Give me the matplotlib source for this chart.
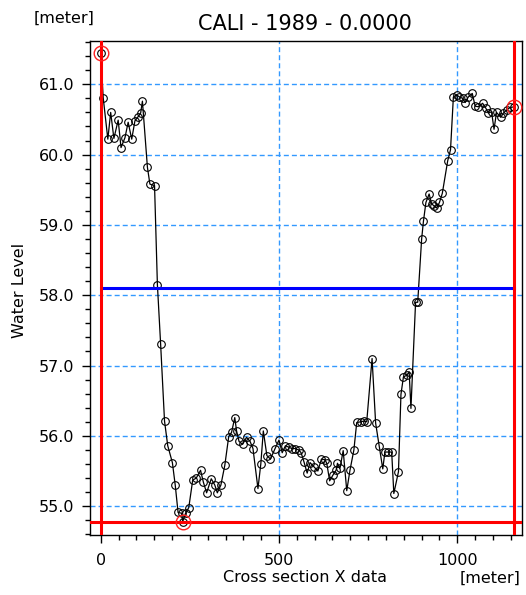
import numpy as np
import matplotlib
matplotlib.use("Agg")
import matplotlib.pyplot as plt
from matplotlib.ticker import MultipleLocator, FixedLocator

plt.rcParams['font.family'] = ['DejaVu Sans']
plt.rcParams['lines.scale_dashes'] = False

# cross section profile (distance [m], level [m])
xs = [0, 7, 20, 28, 37, 49, 57, 68, 77, 87, 96, 105, 112, 117, 131, 138, 151,
      159, 168, 179, 188, 201, 209, 217, 227, 230, 238, 247, 258, 268, 280, 288,
      297, 310, 320, 327, 337, 348, 359, 367, 376, 381, 388, 398, 409, 419, 427,
      441, 449, 456, 466, 476, 489, 500, 509, 518, 527, 536, 545, 555, 562, 570,
      579, 587, 598, 609, 619, 629, 634, 642, 651, 660, 664, 671, 680, 690, 699,
      710, 718, 729, 738, 746, 761, 771, 781, 791, 797, 807, 816, 822, 835, 842,
      849, 858, 865, 870, 883, 889, 900, 905, 912, 921, 928, 935, 942, 950, 958,
      973, 981, 989, 998, 1006, 1015, 1022, 1031, 1042, 1050, 1059, 1071, 1080,
      1087, 1096, 1103, 1110, 1122, 1129, 1140, 1148, 1160]
zs = [61.45, 60.81, 60.22, 60.60, 60.23, 60.49, 60.10, 60.24, 60.46, 60.22,
      60.48, 60.54, 60.59, 60.76, 59.82, 59.58, 59.56, 58.15, 57.31, 56.21,
      55.86, 55.62, 55.30, 54.91, 54.90, 54.78, 54.90, 54.98, 55.37, 55.40,
      55.51, 55.34, 55.19, 55.39, 55.30, 55.19, 55.30, 55.58, 55.99, 56.05,
      56.26, 56.07, 55.92, 55.88, 55.98, 55.92, 55.82, 55.25, 55.60, 56.07,
      55.72, 55.67, 55.82, 55.94, 55.76, 55.86, 55.84, 55.82, 55.82, 55.80,
      55.76, 55.63, 55.47, 55.62, 55.56, 55.50, 55.67, 55.66, 55.61, 55.36,
      55.44, 55.51, 55.61, 55.54, 55.79, 55.22, 55.51, 55.80, 56.19, 56.20,
      56.21, 56.20, 57.10, 56.18, 55.85, 55.53, 55.77, 55.77, 55.77, 55.18,
      55.49, 56.59, 56.84, 56.86, 56.91, 56.39, 57.90, 57.90, 58.80, 59.05,
      59.32, 59.44, 59.30, 59.27, 59.24, 59.32, 59.45, 59.91, 60.07, 60.82,
      60.85, 60.82, 60.80, 60.74, 60.82, 60.87, 60.69, 60.68, 60.73, 60.66,
      60.59, 60.61, 60.36, 60.60, 60.53, 60.59, 60.64, 60.67, 60.68]

water_level = 58.1
x_left, x_right = 0, 1160
z_min = 54.78
# flagged points (start, lowest, end)
flag_x = [0, 230, 1160]
flag_z = [61.45, 54.78, 60.68]

xticks = [0, 500, 1000]
yticks = [55, 56, 57, 58, 59, 60, 61]

fig = plt.figure(figsize=(5.26, 5.95), dpi=100)
ax = fig.add_axes([90/526, 1-535/595, 431.7/526, 494.3/595])

gridc = '#3399ff'
for t in xticks:
    ax.axvline(t, color=gridc, lw=1, ls=(0, (3.6, 2.2)), zorder=1)
for t in yticks:
    ax.axhline(t, color=gridc, lw=1, ls=(0, (3.6, 2.2)), zorder=1)

ax.plot(xs, zs, '-', color='black', lw=0.9, marker='o', ms=5.5,
        mfc='none', mec='black', mew=0.8, zorder=3)

ax.plot([x_left, x_right], [water_level, water_level], color='#0000ff', lw=2.2, zorder=4)
ax.axvline(x_left, color='#ff0000', lw=2.2, zorder=5)
ax.axvline(x_right, color='#ff0000', lw=2.2, zorder=5)
ax.axhline(z_min, color='#ff0000', lw=2.2, zorder=5)
ax.plot(flag_x, flag_z, 'o', ms=10.5, mfc='none', mec='#ff2020', mew=1, zorder=6)

ax.set_xlim(-30, 1180.6)
ax.set_ylim(54.59, 61.62)

ax.xaxis.set_major_locator(FixedLocator(xticks))
ax.xaxis.set_minor_locator(MultipleLocator(50))
ax.yaxis.set_major_locator(FixedLocator(yticks))
ax.yaxis.set_minor_locator(MultipleLocator(0.2))
ax.set_xticklabels([str(t) for t in xticks])
ax.set_yticklabels(['%.1f' % t for t in yticks])
ax.tick_params(which='both', direction='out', top=False, right=False,
               colors='black', labelsize=11.5, width=1)
ax.tick_params(axis='x', which='major', length=6, pad=7)
ax.tick_params(axis='y', which='major', length=6, pad=5)
ax.tick_params(which='minor', length=3.5)
for s in ax.spines.values():
    s.set_linewidth(1)
    s.set_color('black')

fig.text(305/526, 1-24/595, 'CALI - 1989 - 0.0000', ha='center', va='center', fontsize=15)
fig.text(64/526, 1-18/595, '[meter]', ha='center', va='center', fontsize=11.5)
fig.text(20/526, 1-290/595, 'Water Level', ha='center', va='center', rotation=90, fontsize=11.5)
fig.text(305/526, 1-578/595, 'Cross section X data', ha='center', va='center', fontsize=11.5)
fig.text(490/526, 1-578/595, '[meter]', ha='center', va='center', fontsize=11.5)

fig.savefig('out.png', dpi=100)
